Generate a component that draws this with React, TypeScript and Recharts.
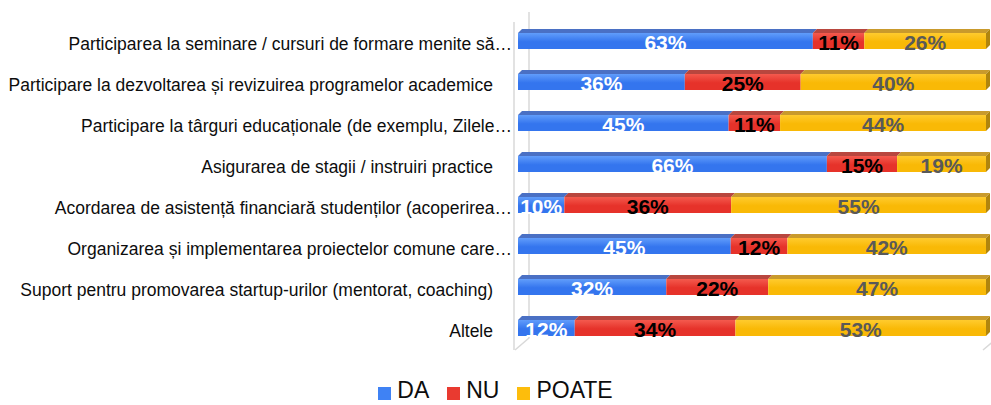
import React from "react";
import { BarChart, Bar, XAxis, YAxis, CartesianGrid, Legend, LabelList } from "recharts";

const categories = [
    "Participarea la seminare / cursuri de formare menite să…",
    "Participare la dezvoltarea și revizuirea programelor academice",
    "Participare la târguri educaționale (de exemplu, Zilele…",
    "Asigurarea de stagii / instruiri practice",
    "Acordarea de asistență financiară studenților (acoperirea…",
    "Organizarea și implementarea proiectelor comune care…",
    "Suport pentru promovarea startup-urilor (mentorat, coaching)",
    "Altele",
];
const daValues = [63, 36, 45, 66, 10, 45, 32, 12];
const nuValues = [11, 25, 11, 15, 36, 12, 22, 34];
const poateValues = [26, 40, 44, 19, 55, 42, 47, 53];
const seriesNames = ["DA", "NU", "POATE"];
const gridTicks = [0, 0.5, 1];

const data = categories.map((name, i) => ({
    name,
    DA: daValues[i],
    NU: nuValues[i],
    POATE: poateValues[i],
}));

const W = 991;
const H = 405;
const YAXIS_W = 518;
const DEPTH = 4;
const FONT = '"Liberation Sans", Arial, sans-serif';

const palette: Record<string, { light: string; dark: string; top: string; side: string; label: string; legend: string }> = {
    DA: { light: "#619dfb", dark: "#3475ee", top: "#4a70c4", side: "#2f5db5", label: "#ffffff", legend: "#3f82f4" },
    NU: { light: "#f45a4e", dark: "#e6322a", top: "#b8463e", side: "#a33029", label: "#000000", legend: "#e93a30" },
    POATE: { light: "#ffcb2e", dark: "#f9b906", top: "#c99a2c", side: "#b0850e", label: "#595959", legend: "#fdbd0c" },
};

// 3D-ish bar segment: front face + slanted top (+ right side on last segment)
const makeShape = (key: string, isLast: boolean) => (props: any) => {
    const { x, y, width, height } = props;
    if (!width || width <= 0) return <g />;
    const c = palette[key];
    const top = `M${x},${y} L${x + DEPTH},${y - DEPTH} L${x + width + DEPTH},${y - DEPTH} L${x + width},${y} Z`;
    const side = `M${x + width},${y} L${x + width + DEPTH},${y - DEPTH} L${x + width + DEPTH},${y + height - DEPTH} L${x + width},${y + height} Z`;
    return (
        <g>
            <path d={top} fill={c.top} />
            {isLast && <path d={side} fill={c.side} />}
            <rect x={x} y={y} width={width} height={height} fill={`url(#grad${key})`} />
        </g>
    );
};

const makeLabel = (key: string) => (props: any) => {
    const { x, y, width, height, value } = props;
    return (
        <text
            x={x + width / 2}
            y={y + height + 0.5}
            textAnchor="middle"
            fill={palette[key].label}
            style={{ fontFamily: FONT, fontSize: 21, fontWeight: "bold" }}
        >
            {value}%
        </text>
    );
};

const CategoryTick = (props: any) => {
    const { x, y, payload } = props;
    const label: string = payload.value;
    const truncated = label.endsWith("…");
    return (
        <text
            x={truncated ? x : x - 19}
            y={y + 9}
            textAnchor="end"
            fill="#0d0d0d"
            style={{ fontFamily: FONT, fontSize: 17.5 }}
        >
            {label}
        </text>
    );
};

// back-wall gridline with a slanted foot on the floor
const renderGridLine = (p: any) => {
    const x = p.x1;
    const top = Math.min(p.y1, p.y2);
    const bottom = Math.max(p.y1, p.y2);
    const path = `M${x + 11},${top - 8} L${x + 11},${bottom - 10} L${x - 3},${bottom + 2}`;
    return (
        <g key={p.key ?? x}>
            {x < YAXIS_W + 1 && (
                <line x1={x - 4} y1={top + 2} x2={x - 4} y2={bottom + 2} stroke="#d9d9d9" strokeWidth={1.5} />
            )}
            <path d={path} fill="none" stroke="#d9d9d9" strokeWidth={1.5} />
        </g>
    );
};

const renderLegend = () => (
    <div style={{ height: 57, position: "relative", width: W }}>
        <div
            style={{
                position: "absolute",
                top: 32,
                left: 0,
                right: 0,
                display: "flex",
                justifyContent: "center",
                gap: 18,
                fontFamily: FONT,
                fontSize: 23,
                lineHeight: "20px",
                color: "#0d0d0d",
            }}
        >
            {seriesNames.map((name) => (
                <div key={name} style={{ display: "flex", alignItems: "flex-start" }}>
                    <span
                        style={{
                            width: 13,
                            height: 13,
                            marginTop: 7,
                            marginRight: 6,
                            background: palette[name].legend,
                            display: "inline-block",
                        }}
                    />
                    <span>{name}</span>
                </div>
            ))}
        </div>
    </div>
);

export default function App() {
    return (
        <div style={{ position: "absolute", left: 0, top: 0, width: W, height: H, background: "#fff" }}>
            <BarChart
                width={W}
                height={H}
                data={data}
                layout="vertical"
                stackOffset="expand"
                barSize={16}
                margin={{ top: 20, right: 5, bottom: 0, left: 0 }}
            >
                <defs>
                    {seriesNames.map((name) => (
                        <linearGradient key={name} id={`grad${name}`} x1="0" y1="0" x2="0" y2="1">
                            <stop offset="0%" stopColor={palette[name].light} />
                            <stop offset="55%" stopColor={palette[name].dark} />
                            <stop offset="100%" stopColor={palette[name].dark} />
                        </linearGradient>
                    ))}
                </defs>
                <CartesianGrid horizontal={false} vertical={renderGridLine} />
                <XAxis
                    type="number"
                    domain={[0, 1]}
                    ticks={gridTicks}
                    tick={false}
                    axisLine={false}
                    tickLine={false}
                    height={0}
                />
                <YAxis
                    type="category"
                    dataKey="name"
                    width={YAXIS_W}
                    axisLine={false}
                    tickLine={false}
                    tickSize={6}
                    tickMargin={0}
                    tick={<CategoryTick />}
                    interval={0}
                />
                <Legend
                    verticalAlign="bottom"
                    content={renderLegend}
                    wrapperStyle={{ left: 0, width: W }}
                />
                {seriesNames.map((name, i) => (
                    <Bar
                        key={name}
                        dataKey={name}
                        stackId="a"
                        isAnimationActive={false}
                        shape={makeShape(name, i === seriesNames.length - 1)}
                    >
                        <LabelList dataKey={name} content={makeLabel(name)} />
                    </Bar>
                ))}
            </BarChart>
        </div>
    );
}
